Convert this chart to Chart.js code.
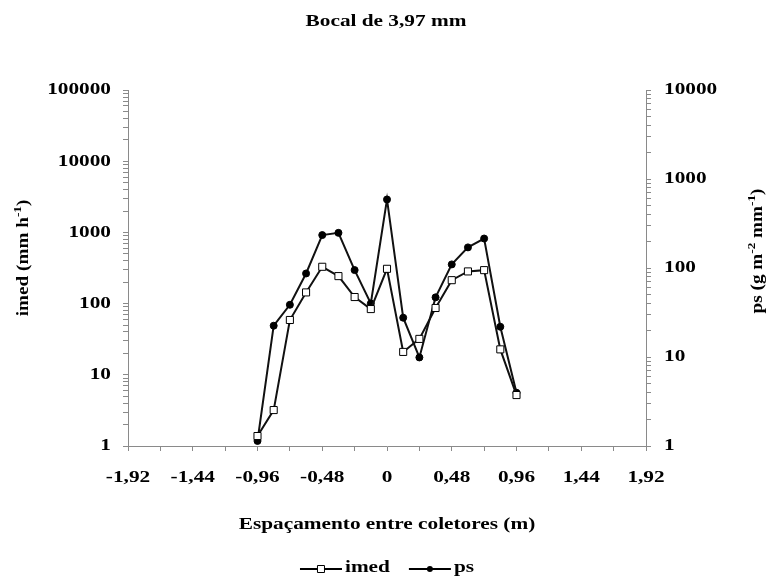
<!DOCTYPE html>
<html>
<head>
<meta charset="utf-8">
<title>Bocal de 3,97 mm</title>
<script src="https://cdn.jsdelivr.net/npm/chart.js@4.4.1/dist/chart.umd.min.js"></script>
<style>
  html, body { margin: 0; padding: 0; background: #fff; }
  #wrap { width: 772px; height: 580px; }
</style>
</head>
<body>
<div id="wrap"><canvas id="c" width="772" height="580"></canvas></div>
<script>
// ---- data -------------------------------------------------------------
const chartTitle = 'Bocal de 3,97 mm';
const xTitle = 'Espaçamento entre coletores (m)';
const seriesNames = ['imed', 'ps'];

// collector positions (m)
const positions = [-0.96, -0.84, -0.72, -0.60, -0.48, -0.36, -0.24, -0.12, 0,
                   0.12, 0.24, 0.36, 0.48, 0.60, 0.72, 0.84, 0.96];
// mean intensity (mm h-1), left axis
const imed = [1.38, 3.2, 59, 144, 330, 244, 124, 84, 309,
              21, 32, 87, 214, 284, 296, 22.8, 5.2];
// ps (g m-2 mm-1), right axis
const ps = [1.14, 22.5, 38.7, 87, 235, 249, 95, 40, 591,
            27.7, 9.9, 46.9, 110, 171, 215, 21.9, 3.97];

const xTickLabels = ['-1,92', '-1,44', '-0,96', '-0,48', '0', '0,48', '0,96', '1,44', '1,92'];
const leftTickLabels = ['1', '10', '100', '1000', '10000', '100000'];
const rightTickLabels = ['1', '10', '100', '1000', '10000'];

// ---- styling ------------------------------------------------------------
const SERIF = '"Liberation Serif", "Times New Roman", serif';
const AXIS_GREY = '#8a8a8a';
const INK = '#000';
const X_MIN = -1.92, X_MAX = 1.92, X_STEP = 0.24;

const canvas = document.getElementById('c');
const ctx = canvas.getContext('2d');

// The lettering of this figure is set wide: text drawn on this canvas is
// stretched horizontally by ctx.textStretch, and measured the same way.
ctx.textStretch = 1.33;
const nativeFillText = ctx.fillText;
const nativeMeasureText = ctx.measureText;
ctx.fillText = function (text, x, y) {
  const s = this.textStretch || 1;
  this.save();
  this.translate(x, y);
  this.scale(s, 1);
  nativeFillText.call(this, text, 0, 0);
  this.restore();
};
ctx.measureText = function (text) {
  const m = nativeMeasureText.call(this, text);
  const s = this.textStretch || 1;
  return {
    width: m.width * s,
    actualBoundingBoxLeft: m.actualBoundingBoxLeft * s,
    actualBoundingBoxRight: m.actualBoundingBoxRight * s,
    actualBoundingBoxAscent: m.actualBoundingBoxAscent,
    actualBoundingBoxDescent: m.actualBoundingBoxDescent,
    fontBoundingBoxAscent: m.fontBoundingBoxAscent,
    fontBoundingBoxDescent: m.fontBoundingBoxDescent
  };
};

// log-axis ticks: every 1..9 x decade, labelled only on the decades
function decadeTicks(labels) {
  const decades = labels.map(Number);
  const out = [];
  for (let i = 0; i < decades.length - 1; i++) {
    for (let m = 1; m <= 9; m++) out.push(m * decades[i]);
  }
  out.push(decades[decades.length - 1]);
  return out.map(v => ({ value: v }));
}

const tickFont = { family: SERIF, size: 16, weight: 'bold' };

function logAxis(position, labels, width, padding) {
  return {
    type: 'logarithmic',
    position: position,
    min: Number(labels[0]),
    max: Number(labels[labels.length - 1]),
    afterBuildTicks(scale) { scale.ticks = decadeTicks(labels); },
    afterFit(scale) { scale.width = width; },
    ticks: {
      autoSkip: false,
      padding: padding,
      color: INK,
      font: tickFont,
      callback(value) {
        const s = String(value);
        return labels.includes(s) ? s : '';
      }
    },
    grid: { drawOnChartArea: false, drawTicks: true, tickLength: 5, color: AXIS_GREY, lineWidth: 1 },
    border: { display: true, color: AXIS_GREY, width: 1 }
  };
}

// ---- axis titles with superscripts, and the line+marker legend ------------
function drawRich(c, parts, cx, cy) {
  const base = 'bold 16px ' + SERIF;
  const sup = 'bold 11px ' + SERIF;
  let total = 0;
  parts.forEach(p => { c.font = p.sup ? sup : base; total += c.measureText(p.t).width; });
  let x = cx - total / 2;
  parts.forEach(p => {
    c.font = p.sup ? sup : base;
    c.fillText(p.t, x, p.sup ? cy - 6 : cy);
    x += c.measureText(p.t).width;
  });
}

function drawMarker(c, style, x, y) {
  c.beginPath();
  if (style === 'rect') {
    c.rect(x - 3.5, y - 3.5, 7, 7);
    c.fillStyle = '#fff';
    c.fill();
    c.lineWidth = 1;
    c.strokeStyle = INK;
    c.stroke();
  } else {
    c.arc(x, y, 3, 0, Math.PI * 2);
    c.fillStyle = INK;
    c.fill();
  }
}

const figureText = {
  id: 'figureText',
  afterDraw(chart) {
    const c = chart.ctx;
    const saved = c.textStretch;

    // vertical axis titles, both reading bottom to top
    c.save();
    c.fillStyle = INK;
    c.textAlign = 'left';
    c.textBaseline = 'middle';
    c.textStretch = 1.2;
    c.save();
    c.translate(24, 258);
    c.rotate(-Math.PI / 2);
    drawRich(c, [{ t: 'imed (mm h' }, { t: '-1', sup: true }, { t: ')' }], 0, 0);
    c.restore();
    c.save();
    c.translate(758, 251);
    c.rotate(-Math.PI / 2);
    drawRich(c, [{ t: 'ps (g m' }, { t: '-2', sup: true }, { t: ' mm' }, { t: '-1', sup: true }, { t: ')' }], 0, 0);
    c.restore();
    c.restore();
    c.textStretch = saved;

    // legend: short line with the series marker, then the name
    c.save();
    c.font = 'bold 16px ' + SERIF;
    c.textAlign = 'left';
    c.textBaseline = 'middle';
    const seg = 42, gap = 3, between = 19, y = 568;
    const items = chart.data.datasets.map(ds => ({ ds, w: c.measureText(ds.label).width }));
    const total = items.reduce((a, it) => a + seg + gap + it.w, 0) + between * (items.length - 1);
    let x = (chart.chartArea.left + chart.chartArea.right) / 2 - total / 2;
    items.forEach(it => {
      c.beginPath();
      c.moveTo(x, y + 1);
      c.lineTo(x + seg, y + 1);
      c.lineWidth = 2;
      c.strokeStyle = INK;
      c.stroke();
      drawMarker(c, it.ds.pointStyle, x + seg / 2, y + 1);
      c.fillStyle = INK;
      c.fillText(it.ds.label, x + seg + gap, y);
      x += seg + gap + it.w + between;
    });
    c.restore();
  }
};

// ---- chart --------------------------------------------------------------
new Chart(ctx, {
  type: 'line',
  data: {
    datasets: [
      {
        label: seriesNames[0],
        data: positions.map((p, i) => ({ x: p, y: imed[i] })),
        yAxisID: 'y',
        borderColor: '#111',
        borderWidth: 2,
        tension: 0,
        pointStyle: 'rect',
        pointRadius: 5,
        pointBackgroundColor: '#fff',
        pointBorderColor: INK,
        pointBorderWidth: 1
      },
      {
        label: seriesNames[1],
        data: positions.map((p, i) => ({ x: p, y: ps[i] })),
        yAxisID: 'y1',
        borderColor: '#111',
        borderWidth: 2,
        tension: 0,
        pointStyle: 'circle',
        pointRadius: 3.5,
        pointBackgroundColor: INK,
        pointBorderColor: INK,
        pointBorderWidth: 1
      }
    ]
  },
  options: {
    responsive: false,
    animation: false,
    devicePixelRatio: 1,
    layout: { padding: 0 },
    plugins: {
      legend: { display: false },
      tooltip: { enabled: false },
      title: {
        display: true,
        text: chartTitle,
        color: INK,
        font: { family: SERIF, size: 16, weight: 'bold' },
        padding: { top: 12, bottom: 59 }
      }
    },
    scales: {
      x: {
        type: 'linear',
        position: 'bottom',
        min: X_MIN,
        max: X_MAX,
        afterFit(scale) { scale.height = 134; },
        ticks: {
          stepSize: X_STEP,
          autoSkip: false,
          maxRotation: 0,
          minRotation: 0,
          padding: 17,
          color: INK,
          font: tickFont,
          callback(value) {
            const i = Math.round((value - X_MIN) / X_STEP);
            return i % 2 === 0 ? xTickLabels[i / 2] : '';
          }
        },
        grid: { drawOnChartArea: false, drawTicks: true, tickLength: 5, color: AXIS_GREY, lineWidth: 1 },
        border: { display: true, color: AXIS_GREY, width: 1 },
        title: {
          display: true,
          text: xTitle,
          color: INK,
          font: { family: SERIF, size: 16, weight: 'bold' },
          padding: { top: 0, bottom: 46 }
        }
      },
      y: logAxis('left', leftTickLabels, 128, 12),
      y1: logAxis('right', rightTickLabels, 126, 13)
    }
  },
  plugins: [figureText]
});
</script>
</body>
</html>
